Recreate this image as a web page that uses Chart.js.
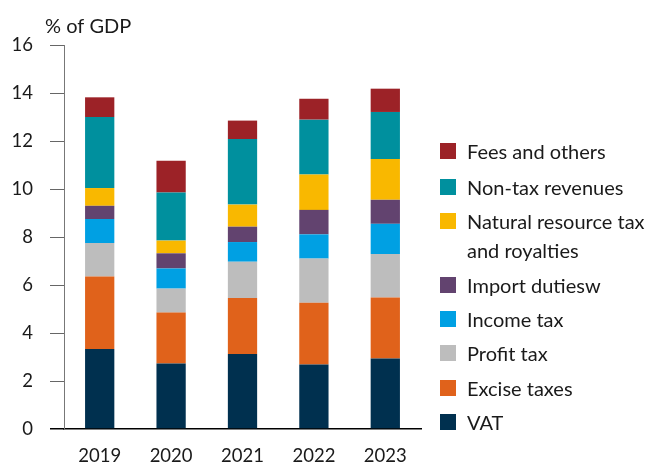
<!DOCTYPE html>
<html>
<head>
<meta charset="utf-8">
<script src="https://cdn.jsdelivr.net/npm/chart.js@4"></script>
<style>
  html, body { margin: 0; padding: 0; background: #fff; }
  #wrap { position: relative; width: 648px; height: 466px; }
  #legend { position: absolute; left: 440px; top: 0; font-family: Lato, sans-serif; font-size: 20px; color: #1a1a1a; }
  .item { position: absolute; left: 0; white-space: nowrap; }
  .box { position: absolute; left: 0; width: 16px; height: 16px; }
  .txt { position: absolute; left: 27px; line-height: 29px; }
</style>
</head>
<body>
<div id="wrap">
  <canvas id="chart" width="648" height="466"></canvas>
  <div id="legend"></div>
</div>
<script>
const years = ['2019', '2020', '2021', '2022', '2023'];

const vat          = [3.33, 2.73, 3.12, 2.69, 2.94];
const excise       = [3.02, 2.12, 2.34, 2.57, 2.54];
const profitTax    = [1.40, 1.00, 1.51, 1.84, 1.81];
const incomeTax    = [1.00, 0.84, 0.82, 1.01, 1.26];
const importDuties = [0.55, 0.63, 0.64, 1.02, 1.00];
const naturalRes   = [0.74, 0.53, 0.92, 1.47, 1.70];
const nonTax       = [2.96, 2.00, 2.73, 2.29, 1.96];
const fees         = [0.82, 1.33, 0.77, 0.87, 0.97];

const yTicks = [0, 2, 4, 6, 8, 10, 12, 14, 16];

// bottom to top
const series = [
  { label: 'VAT', data: vat, color: '#00304f' },
  { label: 'Excise taxes', data: excise, color: '#e0621b' },
  { label: 'Profit tax', data: profitTax, color: '#bdbdbd' },
  { label: 'Income tax', data: incomeTax, color: '#00a0e3' },
  { label: 'Import dutiesw', data: importDuties, color: '#62436f' },
  { label: ['Natural resource tax', 'and royalties'], data: naturalRes, color: '#f9b800' },
  { label: 'Non-tax revenues', data: nonTax, color: '#00909e' },
  { label: 'Fees and others', data: fees, color: '#9c2227' }
];

const unitTitle = {
  id: 'unitTitle',
  afterDraw(chart) {
    const ctx = chart.ctx;
    ctx.save();
    ctx.font = '20px Lato, sans-serif';
    ctx.fillStyle = '#1a1a1a';
    ctx.textBaseline = 'middle';
    ctx.fillText('% of GDP', chart.chartArea.left - 19, 27);
    ctx.restore();
  }
};

new Chart(document.getElementById('chart'), {
  type: 'bar',
  data: {
    labels: years,
    datasets: series.map(s => ({
      label: Array.isArray(s.label) ? s.label.join(' ') : s.label,
      data: s.data,
      backgroundColor: s.color,
      borderWidth: 0,
      barPercentage: 0.41,
      categoryPercentage: 1
    }))
  },
  options: {
    responsive: false,
    animation: false,
    layout: { padding: { top: 45, right: 227, left: 0, bottom: 0 } },
    plugins: { legend: { display: false }, tooltip: { enabled: false } },
    scales: {
      x: {
        stacked: true,
        grid: { display: false },
        border: { color: '#000', width: 1.5 },
        ticks: { color: '#1a1a1a', font: { family: 'Lato', size: 18.5 }, padding: 8 },
        afterFit: s => { s.height = 37; }
      },
      y: {
        stacked: true,
        min: 0,
        max: 16,
        afterBuildTicks: s => { s.ticks = yTicks.map(v => ({ value: v })); },
        grid: {
          drawOnChartArea: false,
          drawTicks: true,
          tickLength: 14,
          color: c => (c.tick && c.tick.value === 0) ? '#000' : '#666',
          lineWidth: c => (c.tick && c.tick.value === 0) ? 1.5 : 1
        },
        border: { color: '#777', width: 1 },
        ticks: { color: '#1a1a1a', font: { family: 'Lato', size: 18.5 }, padding: 17 },
        afterFit: s => { s.width = 64; }
      }
    }
  },
  plugins: [unitTitle]
});

// legend, top to bottom
const rowCenters = [151, 187, 221, 285, 319, 353, 388, 422];
const legend = document.getElementById('legend');
series.slice().reverse().forEach((s, i) => {
  const item = document.createElement('div');
  item.className = 'item';
  item.style.top = (rowCenters[i] - 14.5) + 'px';
  const box = document.createElement('div');
  box.className = 'box';
  box.style.background = s.color;
  box.style.top = '6.5px';
  const txt = document.createElement('div');
  txt.className = 'txt';
  txt.innerHTML = Array.isArray(s.label) ? s.label.join('<br>') : s.label;
  item.appendChild(box);
  item.appendChild(txt);
  legend.appendChild(item);
});
</script>
</body>
</html>
